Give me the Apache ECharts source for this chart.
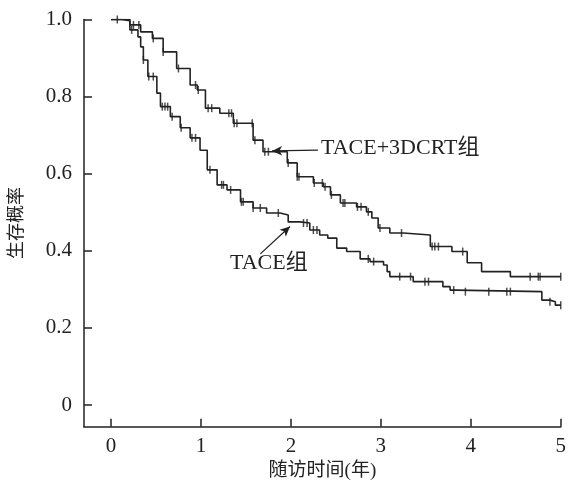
<!DOCTYPE html>
<html>
<head>
<meta charset="utf-8">
<script src="https://cdn.jsdelivr.net/npm/echarts@6/dist/echarts.min.js"></script>
<style>html,body{margin:0;padding:0;background:#fff}#c{width:569px;height:486px}</style>
</head>
<body>
<div id="c"></div>
<script>
// Kaplan-Meier step data (time in years, survival probability)
var comboTimes = [0, 0.12, 0.21, 0.33, 0.46, 0.58, 0.73, 0.88, 0.96, 1.05, 1.21, 1.36, 1.58, 1.69, 1.96, 2.07, 2.25, 2.36, 2.44, 2.55, 2.73, 2.84, 2.90, 2.97, 3.10, 3.25, 3.55, 3.79, 3.96, 4.12, 4.44, 5.0];
var comboSurv  = [1.0, 0.997, 0.986, 0.968, 0.951, 0.916, 0.873, 0.830, 0.817, 0.770, 0.757, 0.731, 0.687, 0.657, 0.628, 0.592, 0.576, 0.566, 0.545, 0.524, 0.514, 0.501, 0.485, 0.459, 0.446, 0.441, 0.411, 0.398, 0.369, 0.346, 0.333, 0.333];
var taceTimes  = [0, 0.21, 0.30, 0.33, 0.36, 0.41, 0.51, 0.55, 0.66, 0.77, 0.88, 0.99, 1.07, 1.18, 1.29, 1.44, 1.58, 1.73, 1.88, 1.97, 2.10, 2.21, 2.32, 2.41, 2.51, 2.62, 2.77, 2.88, 3.03, 3.07, 3.10, 3.36, 3.69, 3.77, 3.84, 4.79, 4.88, 4.94, 5.0];
var taceSurv   = [1.0, 0.973, 0.955, 0.929, 0.895, 0.852, 0.809, 0.774, 0.748, 0.719, 0.693, 0.661, 0.610, 0.571, 0.558, 0.527, 0.511, 0.498, 0.493, 0.475, 0.472, 0.454, 0.441, 0.433, 0.407, 0.398, 0.379, 0.372, 0.363, 0.346, 0.333, 0.320, 0.307, 0.298, 0.294, 0.272, 0.268, 0.259, 0.259];
// censored observation times
var comboCensor = [0.07, 0.25, 0.31, 0.47, 0.58, 0.75, 0.94, 0.97, 1.08, 1.12, 1.31, 1.34, 1.37, 1.40, 1.57, 1.60, 1.71, 1.75, 1.97, 2.07, 2.09, 2.26, 2.35, 2.38, 2.45, 2.58, 2.60, 2.74, 2.78, 2.86, 2.99, 3.23, 3.57, 3.60, 3.64, 3.91, 4.66, 4.75, 4.77, 5.0];
var taceCensor  = [0.23, 0.36, 0.42, 0.47, 0.57, 0.60, 0.63, 0.68, 0.78, 0.90, 0.94, 1.10, 1.23, 1.25, 1.33, 1.45, 1.47, 1.58, 1.66, 1.86, 2.14, 2.18, 2.25, 2.29, 2.86, 2.92, 3.21, 3.33, 3.49, 3.53, 3.81, 3.94, 4.20, 4.40, 4.44, 4.88, 5.0];
var xTicks = [0, 1, 2, 3, 4, 5];
var yTicks = [0, 0.2, 0.4, 0.6, 0.8, 1.0];
var seriesNames = ['TACE+3DCRT组', 'TACE组'];
// annotation arrows: [fromTime, fromSurv, toTime, toSurv]
var arrowCombo = [2.30, 0.661, 1.79, 0.659];
var arrowTace  = [1.66, 0.392, 1.99, 0.463];

function pairs(ts, ss) { return ts.map(function (t, i) { return [t, ss[i]]; }); }
function survAt(ts, ss, t) { var v = ss[0]; for (var i = 0; i < ts.length; i++) { if (ts[i] <= t + 1e-9) v = ss[i]; } return v; }
function censorPts(c, ts, ss) { return c.map(function (t) { return [t, survAt(ts, ss, t)]; }); }

var FONT = "'Liberation Serif', 'Noto Sans CJK SC', serif";
var INK = '#222';
var chart = echarts.init(document.getElementById('c'), null, { renderer: 'canvas' });
var censorStyle = { symbol: 'rect', symbolSize: [1.5, 8], itemStyle: { color: INK }, z: 3, silent: true };
chart.setOption({
  animation: false,
  backgroundColor: '#fff',
  grid: { left: 84, right: 8, top: 19.5, bottom: 59.3 },
  xAxis: {
    type: 'value', min: -0.3, max: 5,
    name: '随访时间(年)', nameLocation: 'middle', nameGap: 33,
    nameTextStyle: { fontFamily: FONT, fontSize: 19, color: INK },
    axisLine: { show: true, onZero: false, lineStyle: { color: INK, width: 1.5 } },
    axisTick: { show: true, inside: true, length: 8, customValues: xTicks, lineStyle: { color: INK, width: 1.5 } },
    axisLabel: { customValues: xTicks, margin: 9, fontFamily: FONT, fontSize: 21, color: INK, formatter: function (v) { return String(Math.round(v)); } },
    splitLine: { show: false }
  },
  yAxis: {
    type: 'value', min: -0.0563, max: 1.0,
    name: '生存概率', nameLocation: 'middle', nameGap: 58, nameRotate: 90,
    nameTextStyle: { fontFamily: FONT, fontSize: 18, color: INK },
    axisLine: { show: true, onZero: false, lineStyle: { color: INK, width: 1.5 } },
    axisTick: { show: true, inside: true, length: 8, customValues: yTicks, lineStyle: { color: INK, width: 1.5 } },
    axisLabel: { customValues: yTicks, margin: 12, fontFamily: FONT, fontSize: 21, color: INK, formatter: function (v) { return Math.abs(v) < 1e-9 ? '0' : v.toFixed(1); } },
    splitLine: { show: false }
  },
  series: [
    { name: seriesNames[0], type: 'line', step: 'end', data: pairs(comboTimes, comboSurv), showSymbol: false, lineStyle: { color: INK, width: 1.6 }, silent: true },
    { name: seriesNames[1], type: 'line', step: 'end', data: pairs(taceTimes, taceSurv), showSymbol: false, lineStyle: { color: INK, width: 1.6 }, silent: true },
    Object.assign({ type: 'scatter', data: censorPts(comboCensor, comboTimes, comboSurv) }, censorStyle),
    Object.assign({ type: 'scatter', data: censorPts(taceCensor, taceTimes, taceSurv),
      markLine: {
        silent: true, symbol: ['none', 'arrow'], symbolSize: [7, 10], label: { show: false },
        lineStyle: { color: INK, width: 1.3, type: 'solid' },
        data: [
          [{ coord: [arrowCombo[0], arrowCombo[1]] }, { coord: [arrowCombo[2], arrowCombo[3]] }],
          [{ coord: [arrowTace[0], arrowTace[1]] }, { coord: [arrowTace[2], arrowTace[3]] }]
        ]
      } }, censorStyle)
  ],
  graphic: [
    { type: 'text', left: 321, top: 137, style: { text: seriesNames[0], font: '22px ' + FONT, fill: INK } },
    { type: 'text', left: 230, top: 252, style: { text: seriesNames[1], font: '22px ' + FONT, fill: INK } }
  ]
});
</script>
</body>
</html>
